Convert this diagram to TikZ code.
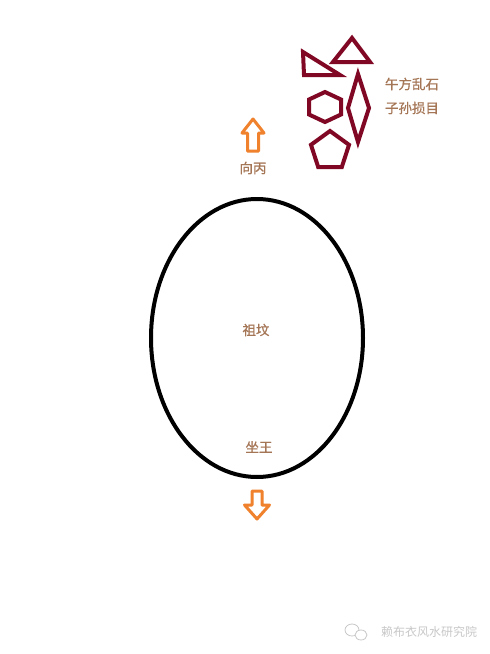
\documentclass[tikz,border=0pt]{standalone}
\usepackage{fontspec}
\newfontfamily\cjk[FakeBold=0.8]{Noto Sans CJK SC}
\newfontfamily\cjkthin{Noto Sans CJK SC}
\usetikzlibrary{positioning,shapes.geometric}
\definecolor{stone}{RGB}{128,8,36}
\definecolor{facing}{RGB}{240,130,45}
\definecolor{label}{RGB}{165,118,86}
\definecolor{faint}{RGB}{200,200,200}
\tikzstyle{rock}=[draw=stone, line width=4pt, line join=miter]
\tikzstyle{pointer}=[draw=facing, line width=3pt, line join=round, fill=white]
\tikzstyle{word}=[text=label, font=\cjk\fontsize{13.5}{15}\selectfont, inner sep=0pt]

\begin{document}
\begin{tikzpicture}[x=1pt, y=-1pt]
  \useasboundingbox[fill=white] (0,0) rectangle (490,654);

  % grave
  \draw[line width=4pt] (257,338) ellipse [x radius=106, y radius=139];
  \node[word] (grave) at (256,330) {祖坟};
  \node[word] (seat) at (259,447) {坐王};

  % facing arrows
  \draw[pointer] (253,119) -- (264,133) -- (258.5,133) -- (258.5,151)
      -- (247.5,151) -- (247.5,133) -- (242,133) -- cycle;
  \node[word] (front) at (253,168) {向丙};
  \draw[pointer] (257,519) -- (269.5,505) -- (262,505) -- (262,491)
      -- (252,491) -- (252,505) -- (244.5,505) -- cycle;

  % rocks
  \draw[rock] (303,52) -- (304,75) -- (340,75) -- cycle;
  \draw[rock] (352,38) -- (370,62) -- (333,62) -- cycle;
  \draw[rock] (325,92) -- (341,99.5) -- (341,114.5) -- (325,122)
      -- (309,114.5) -- (309,99.5) -- cycle;
  \draw[rock] (358,74) -- (369,108) -- (358,142) -- (348,108) -- cycle;
  \node[rock, regular polygon, regular polygon sides=5, minimum size=40pt,
      inner sep=0pt] (pentagon) at (330,151) {};
  \node[word] (rockA) at (412,84) {午方乱石};
  \node[word] (rockB) at (412,108) {子孙损目};

  % watermark
  \draw[faint, line width=0.8pt] (352,630) ellipse [x radius=7, y radius=6];
  \draw[faint, line width=0.8pt, fill=white] (361,635) ellipse [x radius=6, y radius=5];
  \node[text=faint, font=\cjkthin\fontsize{12}{14}\selectfont, inner sep=0pt]
      (sign) at (429,632) {赖布衣风水研究院};
\end{tikzpicture}
\end{document}
